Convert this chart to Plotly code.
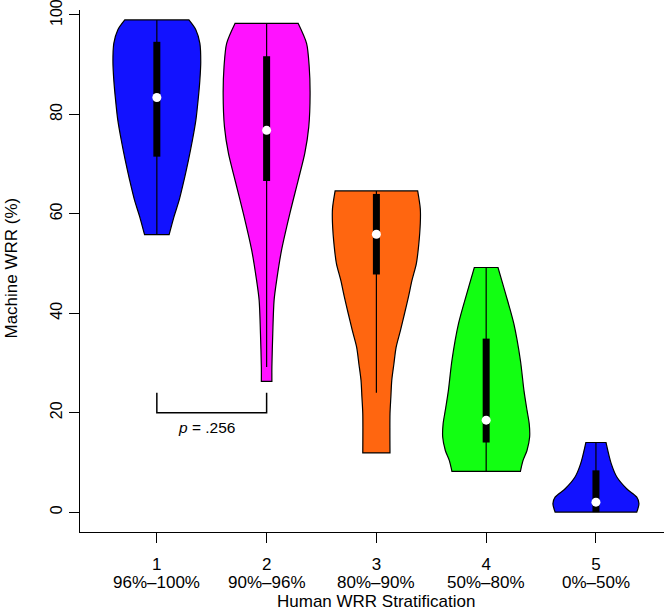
import plotly.graph_objects as go

# ---- data ----
groups = [1, 2, 3, 4, 5]
group_labels = ["96%–100%", "90%–96%", "80%–90%", "50%–80%", "0%–50%"]
fill_colors = ["#1212ff", "#ff12ff", "#ff6610", "#12ff12", "#1212ff"]

# density profiles (relative width, max = 1) at y levels
lev1 = [55.8, 59.4, 62.8, 66.8, 70.8, 74.8, 78.9, 82.9, 86.9, 90.6, 94.3, 97.0, 99.0]
den1 = [0.28, 0.39, 0.51, 0.62, 0.72, 0.81, 0.89, 0.94, 0.98, 1.00, 0.98, 0.89, 0.73]
lev2 = [26.3, 29.2, 35.9, 42.6, 46.7, 52.7, 60.1, 66.8, 72.2, 77.5, 84.2, 89.6, 94.3, 98.3]
den2 = [0.12, 0.12, 0.14, 0.17, 0.23, 0.34, 0.53, 0.72, 0.87, 0.96, 0.99, 0.97, 0.91, 0.72]
lev3 = [11.9, 19.8, 23.2, 26.5, 29.9, 33.2, 36.6, 39.9, 43.3, 46.6, 50.0, 53.4, 58.1, 61.0, 64.6]
den3 = [0.31, 0.31, 0.33, 0.35, 0.40, 0.45, 0.55, 0.64, 0.73, 0.81, 0.91, 0.96, 1.00, 1.00, 0.94]
lev4 = [8.2, 10.4, 12.4, 15.1, 17.8, 20.5, 24.5, 30.5, 37.9, 44.0, 49.2]
den4 = [0.78, 0.84, 0.93, 0.99, 0.98, 0.93, 0.86, 0.78, 0.63, 0.44, 0.27]
lev5 = [0.0, 1.7, 3.0, 4.7, 7.0, 9.7, 14.0]
den5 = [0.93, 0.98, 0.93, 0.70, 0.48, 0.35, 0.23]

q1 = [71.5, 66.6, 47.8, 14.0, 0.0]
q3 = [94.6, 91.7, 64.0, 34.9, 8.4]
medians = [83.4, 76.8, 55.9, 18.5, 2.0]
whisk_lo = [55.8, 29.2, 24.0, 8.2, 0.0]
whisk_hi = [99.0, 98.3, 64.6, 49.2, 14.0]

y_ticks = [0, 20, 40, 60, 80, 100]
p_text = "<i>p</i> = .256"
bracket_groups = [1, 2]
bracket_low, bracket_high = 20, 24

# ---- styling ----
HALF_WIDTH = 0.4
FONT = "Liberation Sans, Arial, Helvetica, sans-serif"

fig = go.Figure()

levels = [lev1, lev2, lev3, lev4, lev5]
dens = [den1, den2, den3, den4, den5]

for g, lv, dn, col in zip(groups, levels, dens, fill_colors):
    left_x = [g - d * HALF_WIDTH for d in dn]
    right_x = [g + d * HALF_WIDTH for d in reversed(dn)]
    left_y = list(lv)
    right_y = list(reversed(lv))
    # repeat the corner points so that the spline keeps sharp flat ends
    xs = [left_x[0]] + left_x + [left_x[-1], right_x[0]] + right_x + [right_x[-1], left_x[0]]
    ys = [left_y[0]] + left_y + [left_y[-1], right_y[0]] + right_y + [right_y[-1], left_y[0]]
    fig.add_trace(go.Scatter(x=xs, y=ys, mode="lines", fill="toself", fillcolor=col,
                             line=dict(color="black", width=1.2, shape="spline",
                                       smoothing=0.8, simplify=False),
                             hoverinfo="skip", showlegend=False))

for i, g in enumerate(groups):
    fig.add_trace(go.Scatter(x=[g, g], y=[whisk_lo[i], whisk_hi[i]], mode="lines",
                             line=dict(color="black", width=1.2), showlegend=False, hoverinfo="skip"))
    fig.add_trace(go.Scatter(x=[g, g], y=[q1[i], q3[i]], mode="lines",
                             line=dict(color="black", width=7), showlegend=False, hoverinfo="skip"))

fig.add_trace(go.Scatter(x=groups, y=medians, mode="markers",
                         marker=dict(color="white", size=9, line=dict(width=0)),
                         showlegend=False, hoverinfo="skip"))

# significance bracket
bx = [bracket_groups[0], bracket_groups[0], bracket_groups[1], bracket_groups[1]]
by = [bracket_high, bracket_low, bracket_low, bracket_high]
fig.add_trace(go.Scatter(x=bx, y=by, mode="lines", line=dict(color="black", width=1.5),
                         showlegend=False, hoverinfo="skip"))
fig.add_annotation(x=1.45, y=17.0, text=p_text, showarrow=False,
                   font=dict(family=FONT, size=15.5, color="black"))

# second row of category labels under the tick numbers
for g, lab in zip(groups, group_labels):
    fig.add_annotation(x=g, xref="x", y=0, yref="paper", yshift=-50.5, text=lab,
                       showarrow=False, yanchor="middle",
                       font=dict(family=FONT, size=17, color="black"))

# axis titles
fig.add_annotation(x=3, xref="x", y=0, yref="paper", yshift=-69.5, text="Human WRR Stratification",
                   showarrow=False, font=dict(family=FONT, size=17, color="black"),
                   yanchor="middle")
fig.add_annotation(x=0, xref="paper", xshift=-68, y=49.0, yref="y", text="Machine WRR (%)",
                   textangle=-90, showarrow=False, font=dict(family=FONT, size=17, color="black"),
                   xanchor="center")

fig.update_layout(
    width=664, height=612,
    margin=dict(l=80, r=0, t=10, b=80, autoexpand=False),
    plot_bgcolor="white", paper_bgcolor="white",
    font=dict(family=FONT, size=16, color="black"),
    xaxis=dict(range=[0.3, 5.62], tickvals=groups, ticktext=[str(g) for g in groups],
               showline=True, linecolor="black", linewidth=1.3,
               ticks="outside", ticklen=10, tickwidth=1.3, tickcolor="black",
               showgrid=False, zeroline=False, ticklabelstandoff=6, automargin=False,
               tickfont=dict(family=FONT, size=17)),
    yaxis=dict(range=[-4, 101], tickvals=y_ticks,
               showline=True, linecolor="black", linewidth=1.3,
               ticks="outside", ticklen=10, tickwidth=1.3, tickcolor="black",
               showgrid=False, zeroline=False, tickangle=-90, ticklabelstandoff=0,
               ticklabeloverflow="allow",
               automargin=False, tickfont=dict(family=FONT, size=16)),
)

fig.write_html("out.html", config={"displayModeBar": False},
               post_script="document.body.style.margin='0';")
